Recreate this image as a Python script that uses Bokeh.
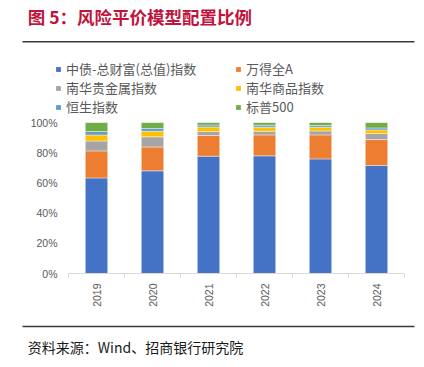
from bokeh.plotting import figure
from bokeh.layouts import column
from bokeh.models import (Range1d, FixedTicker, NumeralTickFormatter, Legend, LegendItem)
from bokeh.core.properties import value
from bokeh.embed import file_html
from bokeh.resources import INLINE
import math

years = ["2019", "2020", "2021", "2022", "2023", "2024"]
series_names = ["中债-总财富(总值)指数", "万得全A", "南华贵金属指数", "南华商品指数", "恒生指数", "标普500"]
bond = [0.633, 0.680, 0.777, 0.779, 0.759, 0.715]
wind_a = [0.179, 0.158, 0.137, 0.139, 0.159, 0.172]
precious = [0.066, 0.067, 0.026, 0.024, 0.026, 0.040]
commodity = [0.040, 0.037, 0.031, 0.027, 0.025, 0.024]
hsi = [0.022, 0.018, 0.013, 0.013, 0.011, 0.013]
spx = [0.060, 0.040, 0.016, 0.018, 0.020, 0.036]
colors = ["#4472C4", "#ED7D31", "#A5A5A5", "#FFC000", "#5B9BD5", "#70AD47"]
y_ticks = [0, 0.2, 0.4, 0.6, 0.8, 1.0]

title_text = "图 5：风险平价模型配置比例"
source_text = "资料来源：Wind、招商银行研究院"

CJK = "Noto Sans CJK SC"
W = 416
H_HEAD = 116

# ---------- header: title, rule, legend ----------
header = figure(width=W, height=H_HEAD, x_range=Range1d(0, W), y_range=Range1d(H_HEAD, 0),
                output_backend="svg", toolbar_location=None, min_border=0, frame_align=False)
header.axis.visible = False
header.grid.visible = False
header.outline_line_color = None
header.text(x=[27.3], y=[16], text=[title_text], text_font=value(CJK), text_font_size="17.5px",
            text_font_style="bold", text_color="#C0143C", text_baseline="middle")
header.segment(x0=[22], y0=[41.3], x1=[414], y1=[41.3], line_color="#3a3a3a", line_width=1.5)

# legend proxies (zero-size, no outline) so the legend can sit outside the chart frame
proxies = [header.vbar(x=[0], top=[0], bottom=[0], width=0, fill_color=c, line_color=None)
           for c in colors]
items = [LegendItem(label=series_names[i], renderers=[proxies[i]]) for i in range(len(colors))]
legend = Legend(items=items, orientation="horizontal", ncols=2, location=(55, 0),
                glyph_width=6, glyph_height=6, label_standoff=5, label_width=169,
                spacing=0, padding=0, margin=0, border_line_color=None,
                background_fill_alpha=0, label_text_font=CJK, label_text_font_size="13px",
                label_text_color="#595959", label_text_baseline="middle")
header.add_layout(legend, "center")

# ---------- main chart ----------
xs = [i + 0.5 for i in range(len(years))]
data = dict(x=xs, bond=bond, wind_a=wind_a, precious=precious, commodity=commodity, hsi=hsi, spx=spx)
keys = ["bond", "wind_a", "precious", "commodity", "hsi", "spx"]

p = figure(width=W, height=6 + 151 + 43, x_range=Range1d(0, len(years)), y_range=Range1d(0, 1),
           output_backend="svg", toolbar_location=None, frame_align=False,
           min_border_left=68, min_border_right=12, min_border_top=6, min_border_bottom=43)
p.outline_line_color = None
p.grid.visible = False

p.vbar_stack(keys, x="x", width=0.4, source=data, fill_color=colors,
             line_color="white", line_width=0.6, line_alpha=0.7)

p.yaxis.ticker = FixedTicker(ticks=y_ticks)
p.yaxis.formatter = NumeralTickFormatter(format="0%")
p.yaxis.axis_line_color = None
p.yaxis.major_tick_line_color = None
p.yaxis.minor_tick_line_color = None
p.yaxis.major_tick_out = 0
p.yaxis.major_label_standoff = 11
p.yaxis.major_label_text_font = "Liberation Sans"
p.yaxis.major_label_text_font_size = "10.5px"
p.yaxis.major_label_text_color = "#595959"

p.xaxis.ticker = FixedTicker(ticks=xs, minor_ticks=list(range(len(years) + 1)))
p.xaxis.major_label_overrides = {x: y for x, y in zip(xs, years)}
p.xaxis.major_label_orientation = math.pi / 2
p.xaxis.axis_line_color = "#D9D9D9"
p.xaxis.major_tick_line_color = None
p.xaxis.major_tick_out = 0
p.xaxis.major_tick_in = 0
p.xaxis.minor_tick_line_color = "#D9D9D9"
p.xaxis.minor_tick_out = 4
p.xaxis.minor_tick_in = 0
p.xaxis.major_label_standoff = 6
p.xaxis.major_label_text_font = "Liberation Sans"
p.xaxis.major_label_text_font_size = "10.5px"
p.xaxis.major_label_text_color = "#595959"

# ---------- footer ----------
footer = figure(width=W, height=45, x_range=Range1d(0, W), y_range=Range1d(45, 0),
                output_backend="svg", toolbar_location=None, min_border=0, frame_align=False)
footer.axis.visible = False
footer.grid.visible = False
footer.outline_line_color = None
footer.segment(x0=[22], y0=[10], x1=[414], y1=[10], line_color="#3a3a3a", line_width=1.5)
footer.text(x=[27.3], y=[30], text=[source_text], text_font=value(CJK), text_font_size="14px",
            text_color="#1a1a1a", text_baseline="middle")

layout = column(header, p, footer, spacing=0)
open("out.html", "w").write(file_html(layout, INLINE))
